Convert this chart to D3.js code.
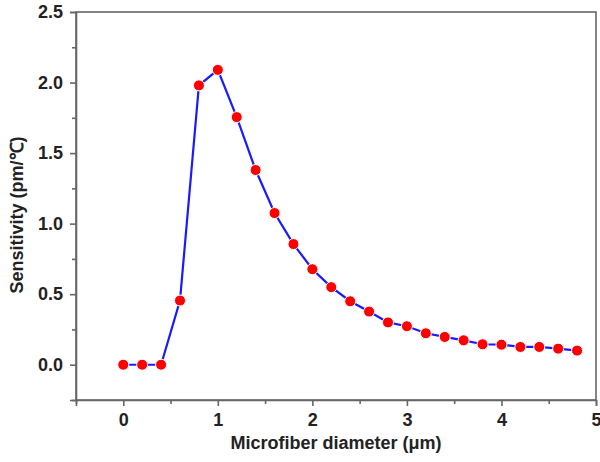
<!DOCTYPE html>
<html>
<head>
<meta charset="utf-8">
<script src="https://cdn.jsdelivr.net/npm/d3@7"></script>
<style>
  body { margin: 0; background: #fff; }
  text { font-family: "Liberation Sans", Arial, sans-serif; font-weight: bold; fill: #222; }
</style>
</head>
<body>
<script>
// microfiber diameter (um) and sensitivity (pm/C)
var diameter = [0, 0.2, 0.4, 0.6, 0.8, 1.0, 1.2, 1.4, 1.6, 1.8, 2.0, 2.2, 2.4,
                2.6, 2.8, 3.0, 3.2, 3.4, 3.6, 3.8, 4.0, 4.2, 4.4, 4.6, 4.8];
var sensitivity = [0, 0, 0, 0.455, 1.98, 2.09, 1.755, 1.38, 1.075, 0.855, 0.677, 0.55, 0.45,
                   0.377, 0.30, 0.273, 0.223, 0.197, 0.173, 0.145, 0.142, 0.126, 0.126, 0.114, 0.10];
var xTicks = [0, 1, 2, 3, 4, 5];
var yTicks = [0.0, 0.5, 1.0, 1.5, 2.0, 2.5];

var w = 600, h = 462;
var mLeft = 76, mRight = 596, mTop = 12, mBottom = 400;

var svg = d3.select("body").append("svg")
    .attr("width", w)
    .attr("height", h);

var x = d3.scaleLinear().domain([-0.5, 5]).range([mLeft, mRight]);
var y = d3.scaleLinear().domain([-0.25, 2.5]).range([mBottom, mTop]);

var axisColor = "#666";

// frame
svg.append("rect")
    .attr("x", mLeft).attr("y", mTop)
    .attr("width", mRight - mLeft).attr("height", mBottom - mTop)
    .attr("fill", "none")
    .attr("stroke", axisColor)
    .attr("stroke-width", 1.6);

// minor ticks at the halves
var xMinor = [-0.5, 0.5, 1.5, 2.5, 3.5, 4.5];
var yMinor = [-0.25, 0.25, 0.75, 1.25, 1.75, 2.25];

svg.append("g")
    .attr("transform", "translate(0," + mBottom + ")")
    .call(d3.axisBottom(x).tickValues(xTicks).tickFormat(d3.format("d")).tickSize(6).tickPadding(7));
svg.append("g")
    .attr("transform", "translate(0," + mBottom + ")")
    .call(d3.axisBottom(x).tickValues(xMinor).tickFormat("").tickSize(4))
    .call(function(g){ g.select(".domain").remove(); });

svg.append("g")
    .attr("transform", "translate(" + mLeft + ",0)")
    .call(d3.axisLeft(y).tickValues(yTicks).tickFormat(d3.format(".1f")).tickSize(6).tickPadding(7));
svg.append("g")
    .attr("transform", "translate(" + mLeft + ",0)")
    .call(d3.axisLeft(y).tickValues(yMinor).tickFormat("").tickSize(4))
    .call(function(g){ g.select(".domain").remove(); });

svg.selectAll(".domain").attr("stroke", axisColor).attr("stroke-width", 1.6);
svg.selectAll(".tick line").attr("stroke", axisColor).attr("stroke-width", 1.6);
svg.selectAll(".tick text")
    .style("font-family", "'Liberation Sans', Arial, sans-serif")
    .style("font-weight", "bold")
    .style("font-size", "18px")
    .attr("fill", "#222");

// axis titles
svg.append("text")
    .attr("x", (mLeft + mRight) / 2)
    .attr("y", 449)
    .attr("text-anchor", "middle")
    .style("font-size", "18px")
    .text("Microfiber diameter (μm)");

svg.append("text")
    .attr("transform", "translate(23,215) rotate(-90)")
    .attr("text-anchor", "middle")
    .style("font-size", "18px")
    .text("Sensitivity (pm/℃)");

// data line
var pts = diameter.map(function(d, i){ return [d, sensitivity[i]]; });
var line = d3.line()
    .x(function(d){ return x(d[0]); })
    .y(function(d){ return y(d[1]); });

svg.append("path")
    .datum(pts)
    .attr("d", line)
    .attr("fill", "none")
    .attr("stroke", "#1a1aff")
    .attr("stroke-width", 2.2);

svg.selectAll(".dot")
    .data(pts)
    .enter()
    .append("circle")
    .attr("class", "dot")
    .attr("cx", function(d){ return x(d[0]); })
    .attr("cy", function(d){ return y(d[1]); })
    .attr("r", 5.5)
    .attr("fill", "#f00")
    .attr("stroke", "#fff")
    .attr("stroke-width", 1);
</script>
</body>
</html>
